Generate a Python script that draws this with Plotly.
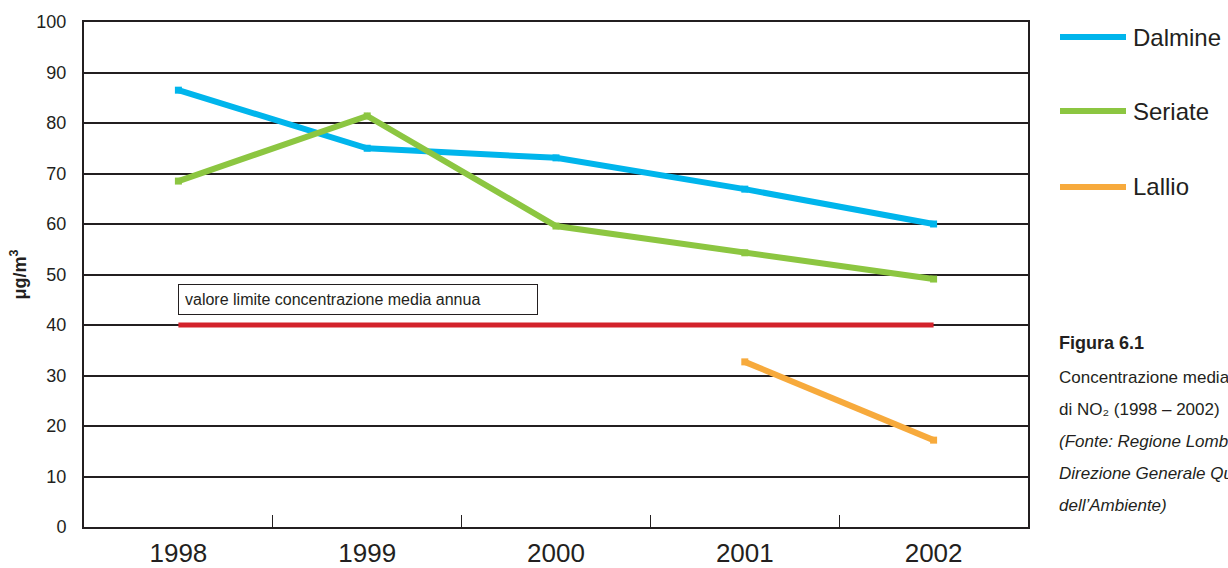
import plotly.graph_objects as go

years = ["1998", "1999", "2000", "2001", "2002"]
dalmine = [86.5, 75.0, 73.1, 66.9, 60.0]
seriate = [68.5, 81.4, 59.6, 54.3, 49.1]
lallio = [None, None, None, 32.7, 17.2]
limite = [40, 40, 40, 40, 40]
y_ticks = [0, 10, 20, 30, 40, 50, 60, 70, 80, 90, 100]

C_DAL = "#00B5EC"
C_SER = "#8CC641"
C_LAL = "#F7AA3C"
C_RED = "#D3222B"
INK = "#231F20"

fig = go.Figure()
fig.add_trace(go.Scatter(x=years, y=limite, mode="lines", name="valore limite",
                         line=dict(color=C_RED, width=5), showlegend=False))
for name, vals, col in [("Dalmine", dalmine, C_DAL), ("Seriate", seriate, C_SER), ("Lallio", lallio, C_LAL)]:
    fig.add_trace(go.Scatter(x=years, y=vals, mode="lines+markers", name=name,
                             line=dict(color=col, width=6),
                             marker=dict(symbol="square", size=7, color=col),
                             showlegend=False))

L, R, T, B = 84, 200, 22, 41
W, H = 1228, 568
pw, ph = W - L - R, H - T - B

def px(x):
    return (x - L) / pw

def py(y):
    return (H - B - y) / ph

sans = "Liberation Sans, Arial, sans-serif"

fig.update_layout(
    width=W, height=H,
    margin=dict(l=L, r=R, t=T, b=B, autoexpand=False),
    paper_bgcolor="white", plot_bgcolor="white",
    font=dict(family=sans, color=INK),
    showlegend=False,
    xaxis=dict(type="category", range=[-0.5, 4.5], tickson="boundaries", automargin=False,
               ticks="inside", ticklen=12, tickwidth=1, tickcolor=INK,
               showgrid=False, showline=True, linecolor=INK, linewidth=2, mirror=True,
               tickfont=dict(family=sans, size=26, color=INK),
               ticklabelstandoff=2),
    yaxis=dict(range=[0, 100], tickvals=y_ticks, ticks="", showgrid=True, automargin=False,
               gridcolor=INK, gridwidth=2, zeroline=False,
               showline=True, linecolor=INK, linewidth=2, mirror=True,
               tickfont=dict(size=18, color=INK), ticklabelstandoff=12,
               title=dict(text="<b>μg/m<sup>3</sup></b>", font=dict(size=18, color=INK), standoff=5)),
)

fig.add_annotation(x=0, y=45, xref="x", yref="y", xanchor="left", yanchor="middle",
                   text="valore limite concentrazione media annua", showarrow=False,
                   font=dict(size=16, color=INK), bordercolor=INK, borderwidth=1,
                   borderpad=6, bgcolor="white", width=346, align="left")

# legend
for label, col, yy in [("Dalmine", C_DAL, 37), ("Seriate", C_SER, 111), ("Lallio", C_LAL, 187)]:
    fig.add_shape(type="line", xref="paper", yref="paper", x0=px(1060), x1=px(1126),
                  y0=py(yy), y1=py(yy), line=dict(color=col, width=6))
    fig.add_annotation(xref="paper", yref="paper", x=px(1131), y=py(yy), xanchor="left",
                       yanchor="middle", text=label, showarrow=False,
                       font=dict(size=24, color=INK))

# caption
fig.add_annotation(xref="paper", yref="paper", x=px(1057), y=py(343), xanchor="left",
                   yanchor="middle", text="<b>Figura 6.1</b>", showarrow=False,
                   font=dict(size=18, family=sans, color=INK))
cap_lines = [
    ("Concentrazione media annua", 377),
    ("di NO₂ (1998 – 2002)", 409),
    ("<i>(Fonte: Regione Lombardia –</i>", 441),
    ("<i>Direzione Generale Qualità</i>", 473),
    ("<i>dell’Ambiente)</i>", 505),
]
for txt, yy in cap_lines:
    fig.add_annotation(xref="paper", yref="paper", x=px(1057), y=py(yy), xanchor="left",
                       yanchor="middle", text=txt, showarrow=False,
                       font=dict(size=17, family=sans, color=INK))

fig.write_html("out.html")
